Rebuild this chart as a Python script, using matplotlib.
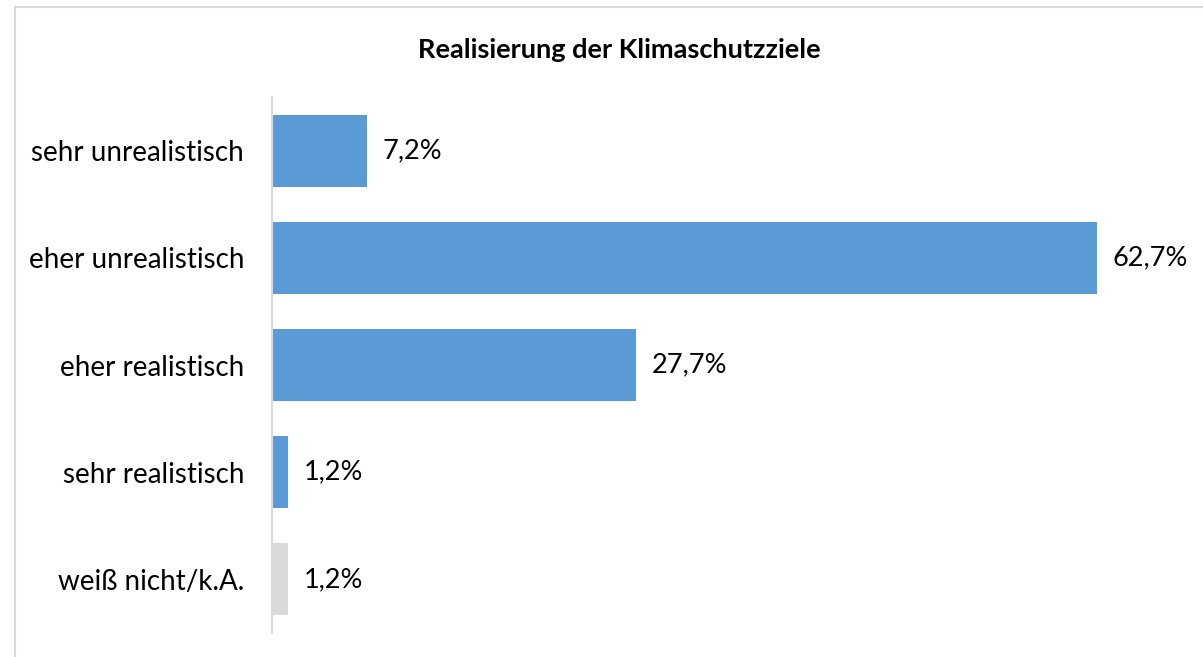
import matplotlib.pyplot as plt
from matplotlib.patches import Rectangle

categories = ["sehr unrealistisch", "eher unrealistisch", "eher realistisch",
              "sehr realistisch", "weiß nicht/k.A."]
values = [7.2, 62.7, 27.7, 1.2, 1.2]
labels = ["7,2%", "62,7%", "27,7%", "1,2%", "1,2%"]
colors = ["#5B9BD5", "#5B9BD5", "#5B9BD5", "#5B9BD5", "#D9D9D9"]

plt.rcParams['font.family'] = ['Lato', 'DejaVu Sans']

fig = plt.figure(figsize=(12.03, 6.57), dpi=100)
# outer chart border (only left/top visible)
fig.patches.append(Rectangle((15 / 1203, -0.1), 1.2, 1 - 7 / 657 + 0.1,
                             transform=fig.transFigure, fill=False,
                             edgecolor="#d9d9d9", linewidth=1.5))

ax = fig.add_axes([272 / 1203, 1 - 633 / 657, 921 / 1203, 536 / 657])
ys = range(len(categories))
ax.barh(ys, values, height=0.67, color=colors)
for y, v, t in zip(ys, values, labels):
    ax.text(v + 1.2, y, t, va="center", ha="left", fontsize=19.5)

ax.set_xlim(0, 70)
ax.set_ylim(len(categories) - 0.5, -0.5)
ax.set_yticks(list(ys))
ax.set_yticklabels(categories, fontsize=20)
ax.tick_params(axis="y", length=0, pad=20)
ax.set_xticks([])
for s in ["top", "right", "bottom"]:
    ax.spines[s].set_visible(False)
ax.spines["left"].set_color("#d9d9d9")
ax.spines["left"].set_linewidth(1.5)

fig.text(619 / 1203, 1 - 50 / 657, "Realisierung der Klimaschutzziele",
         ha="center", va="center", fontsize=19.5, fontweight="bold")

fig.savefig("out.png", dpi=100)
